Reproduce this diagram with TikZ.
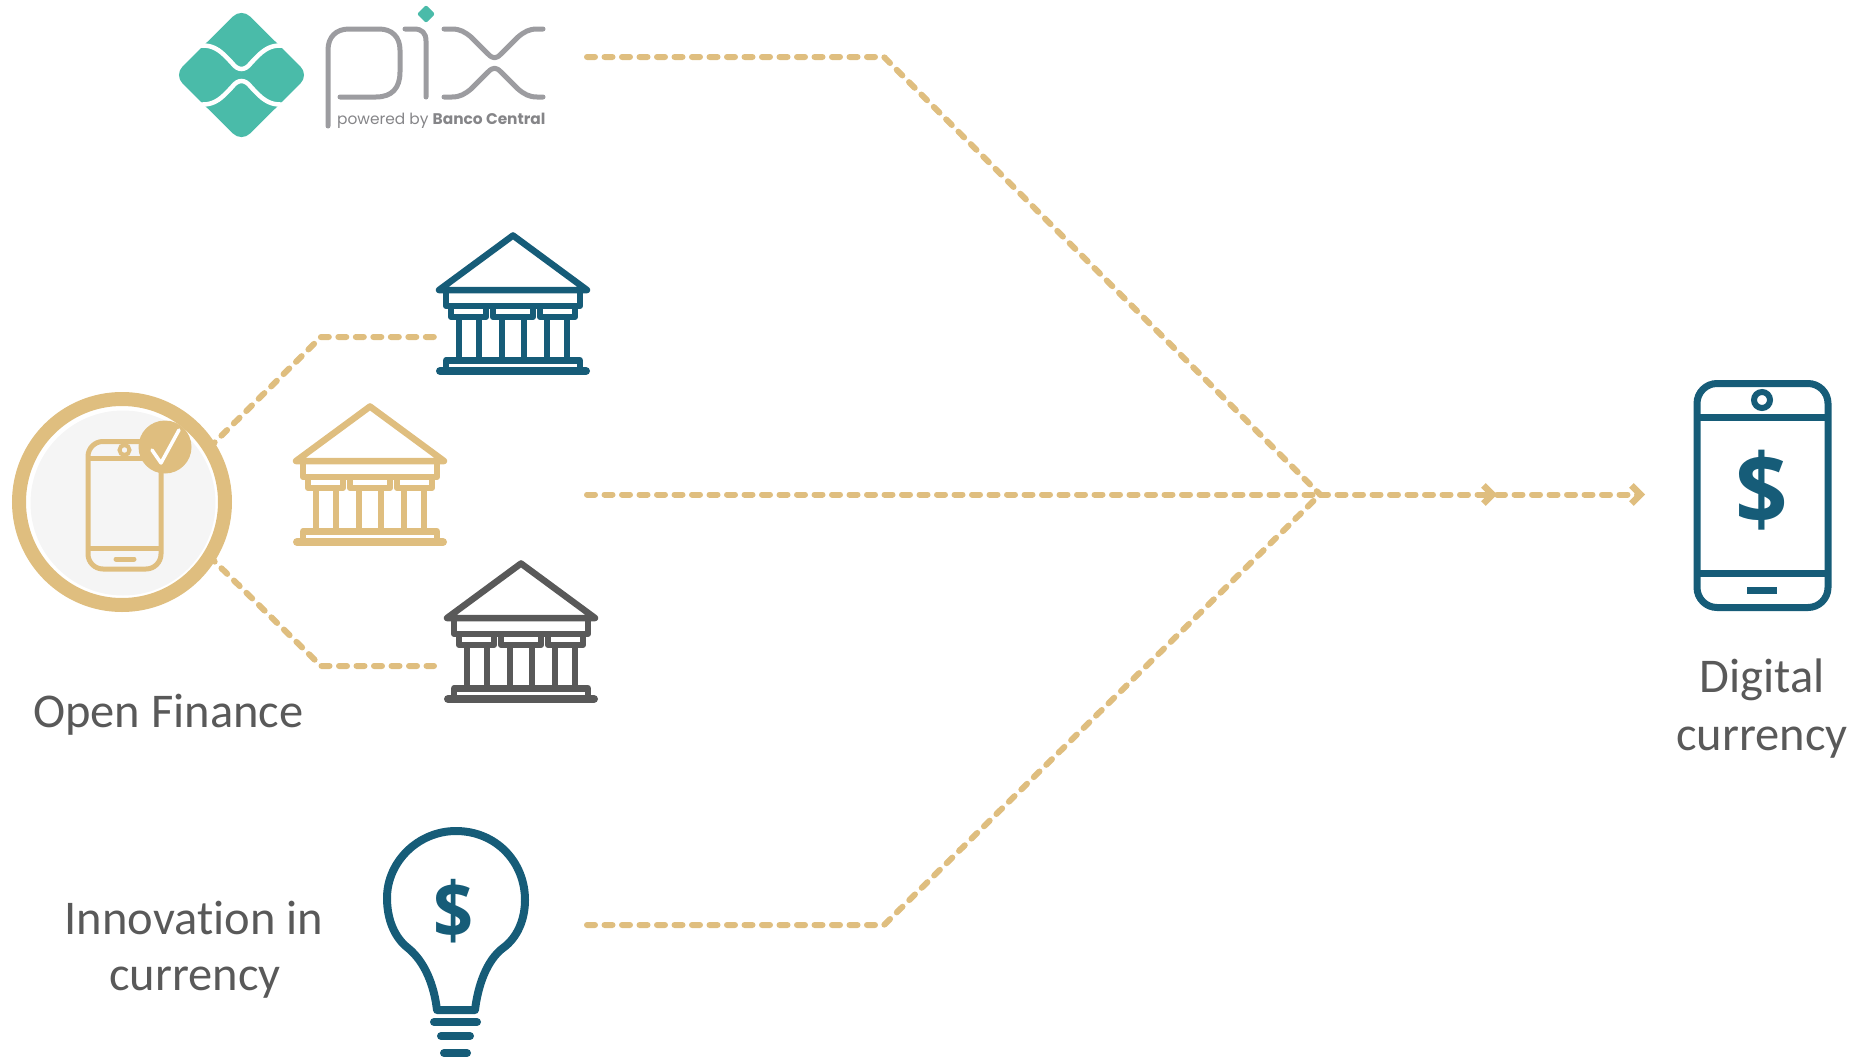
\documentclass[tikz,border=0pt]{standalone}
\usepackage{fontspec}
\setmainfont{Carlito}[Ligatures=CommonOff]
\newfontfamily\logofont{Poppins}
\newfontfamily\dollarfont{Open Sans}
\usetikzlibrary{arrows.meta}
\definecolor{gold}{HTML}{DFBE7F}
\definecolor{deepblue}{HTML}{165C78}
\definecolor{slate}{HTML}{595959}
\definecolor{teal2}{HTML}{4ABBA9}
\definecolor{pixgrey}{HTML}{9C9CA0}
\definecolor{softgrey}{HTML}{F5F5F5}
\tikzset{
  flow/.style={draw=gold,line width=6pt,line cap=round,dash pattern=on 8pt off 9.5pt,line join=round},
  flowarrow/.style={flow,-{Straight Barb[length=9pt,width=18pt,line width=6.5pt,line cap=butt]}},
  label/.style={font=\fontsize{48.5}{58}\selectfont,text=slate,align=center,inner sep=0pt},
  pixline/.style={draw=pixgrey,line width=5pt,line cap=round,line join=round},
  logowave/.style={white,line width=4.5pt,line cap=round},
}
\newcommand{\bankicon}[3]{%
\begin{scope}[shift={(#1,#2)}]
  \draw[#3,line width=6.5pt,line join=round,line cap=round] (-74,58) -- (0,3.5) -- (74,58) -- cycle;
  \draw[#3,line width=6pt,line join=round] (-67,58) -- (-67,74) -- (67,74) -- (67,58);
  \draw[#3,line width=6pt,line join=round] (-62,74) -- (-62,85) -- (-27,85) -- (-27,74)
      (-20,74) -- (-20,85) -- (20,85) -- (20,74)
      (27,74) -- (27,85) -- (62,85) -- (62,74);
  \draw[#3,line width=6.5pt] (-54,85) -- (-54,127) (-34,85) -- (-34,127) (-11,85) -- (-11,127)
      (11,85) -- (11,127) (34,85) -- (34,127) (54,85) -- (54,127);
  \draw[#3,line width=6.5pt,line join=round] (-67,138) -- (-67,128.5) -- (67,128.5) -- (67,138);
  \draw[#3,line width=8pt,line cap=round] (-73,139) -- (73,139);
\end{scope}}
\begin{document}
\begin{tikzpicture}[x=1pt,y=-1pt]
\useasboundingbox (0,0) rectangle (1857,1060);
% flow coordinates
\coordinate (pixstart) at (587,57);
\coordinate (pixbend) at (884,57);
\coordinate (hub) at (1320,494.5);
\coordinate (midstart) at (587,494.5);
\coordinate (midarrow) at (1497,494.5);
\coordinate (endarrow) at (1645,494.5);
\coordinate (innostart) at (587,925);
\coordinate (innobend) at (884,925);
\coordinate (ofup) at (209,448);
\coordinate (ofupbend) at (321,337);
\coordinate (ofupend) at (434,337);
\coordinate (ofdown) at (209,556);
\coordinate (ofdownbend) at (321,666);
\coordinate (ofdownend) at (434,666);
% connectors
\draw[flow] (pixstart) -- (pixbend) -- (hub);
\draw[flow] (innostart) -- (innobend) -- (hub);
\draw[flow] (midstart) -- (hub);
\draw[flowarrow] (hub) -- (midarrow);
\draw[flowarrow] (midarrow) -- (endarrow);
\draw[flow] (ofup) -- (ofupbend) -- (ofupend);
\draw[flow] (ofdown) -- (ofdownbend) -- (ofdownend);
% pix logo
\begin{scope}
  \fill[teal2,rounded corners=12pt] (241.5,8) -- (309,75) -- (241.5,142) -- (174,75) -- cycle;
  \draw[logowave] (186,45.5) -- (203,45.5)
     .. controls (215,45.5) and (222,52) .. (232,63)
     .. controls (238,71) and (245,71) .. (251,63)
     .. controls (261,52) and (268,45.5) .. (280,45.5) -- (297,45.5);
  \draw[logowave] (186,104.5) -- (203,104.5)
     .. controls (215,104.5) and (222,98) .. (232,87)
     .. controls (238,79) and (245,79) .. (251,87)
     .. controls (261,98) and (268,104.5) .. (280,104.5) -- (297,104.5);
  \fill[teal2,rounded corners=2pt] (426,5) -- (435,14) -- (426,23) -- (417,14) -- cycle;
  \draw[pixline] (328,126) -- (328,50) .. controls (328,37) and (336,29) .. (349,29) -- (379,29)
     .. controls (392,29) and (400,37) .. (400,50) -- (400,72)
     .. controls (400,88) and (392,97) .. (376,97) -- (340,97);
  \draw[pixline] (405,29) -- (414,29) .. controls (422,29) and (426,33) .. (426,41) -- (426,97);
  \draw[pixline] (444,29) -- (452,29) .. controls (460,29) and (465,32) .. (471,37) -- (488,54)
     .. controls (493,59) and (496,59) .. (501,54) -- (518,37)
     .. controls (524,32) and (529,29) .. (537,29) -- (543,29);
  \draw[pixline] (444,97) -- (452,97) .. controls (460,97) and (465,94) .. (471,89) -- (488,72)
     .. controls (493,67) and (496,67) .. (501,72) -- (518,89)
     .. controls (524,94) and (529,97) .. (537,97) -- (543,97);
  \node[anchor=base west,inner sep=0pt,text=pixgrey!85!black,font=\logofont\fontsize{15.4}{16}\selectfont] (pixcaption) at (337,124) {powered by \textbf{Banco Central}};
\end{scope}
% banks
\bankicon{513}{232}{deepblue}
\bankicon{370}{403}{gold}
\bankicon{521}{560}{slate}
% open finance badge
\fill[softgrey] (123,503) circle (92.5);
\draw[gold,line width=14pt] (122,502) circle (103);
\draw[gold,line width=5pt,rounded corners=15pt] (88,441.5) rectangle (161,569);
\draw[gold,line width=5pt] (88,458) -- (161,458) (88,548) -- (161,548);
\draw[gold,line width=4pt] (124.5,450) circle (5);
\draw[gold,line width=5pt,line cap=round] (116,559) -- (134,559);
\fill[gold] (165,447) circle (26.5);
\draw[white,line width=3.5pt,line cap=round,line join=round] (152,450) -- (161,463) -- (179,430);
\node[label,anchor=base west] (openfinance) at (33,727) {Open Finance};
% digital phone
\draw[deepblue,line width=7pt,rounded corners=20pt] (1697,383.5) rectangle (1828,607.5);
\draw[deepblue,line width=7pt] (1697,417) -- (1828,417) (1697,573) -- (1828,573);
\draw[deepblue,line width=6pt] (1762,400) circle (8);
\draw[deepblue,line width=7pt] (1747,590) -- (1777,590);
\node[inner sep=0pt,xscale=.94,text=deepblue,font=\dollarfont\fontsize{98}{98}\selectfont\bfseries] (phonedollar) at (1762,490) {\$};
\node[label,anchor=base] (digital) at (1762,692) {Digital};
\node[label,anchor=base] (currency) at (1762,750) {currency};
% bulb
\draw[deepblue,line width=8pt,line join=round] (437,1010)
   .. controls (434,985) and (425,962) .. (408,948)
   .. controls (395,938) and (387,920) .. (387,898)
   .. controls (387,862) and (418,831) .. (456,831)
   .. controls (496,831) and (525,862) .. (525,900)
   .. controls (525,920) and (517,938) .. (503,948)
   .. controls (487,960) and (478,985) .. (475,1010) -- cycle;
\draw[deepblue,line width=8pt,line cap=round] (434,1022) -- (477,1022) (441,1036) -- (470,1036) (444,1053) -- (467,1053);
\node[inner sep=0pt,xscale=.9,text=deepblue,font=\dollarfont\fontsize{78}{78}\selectfont\bfseries] (bulbdollar) at (454,911) {\$};
\node[label,anchor=base] (innovation) at (194,934) {Innovation in};
\node[label,anchor=base] (currencyb) at (195,990) {currency};
\end{tikzpicture}
\end{document}
